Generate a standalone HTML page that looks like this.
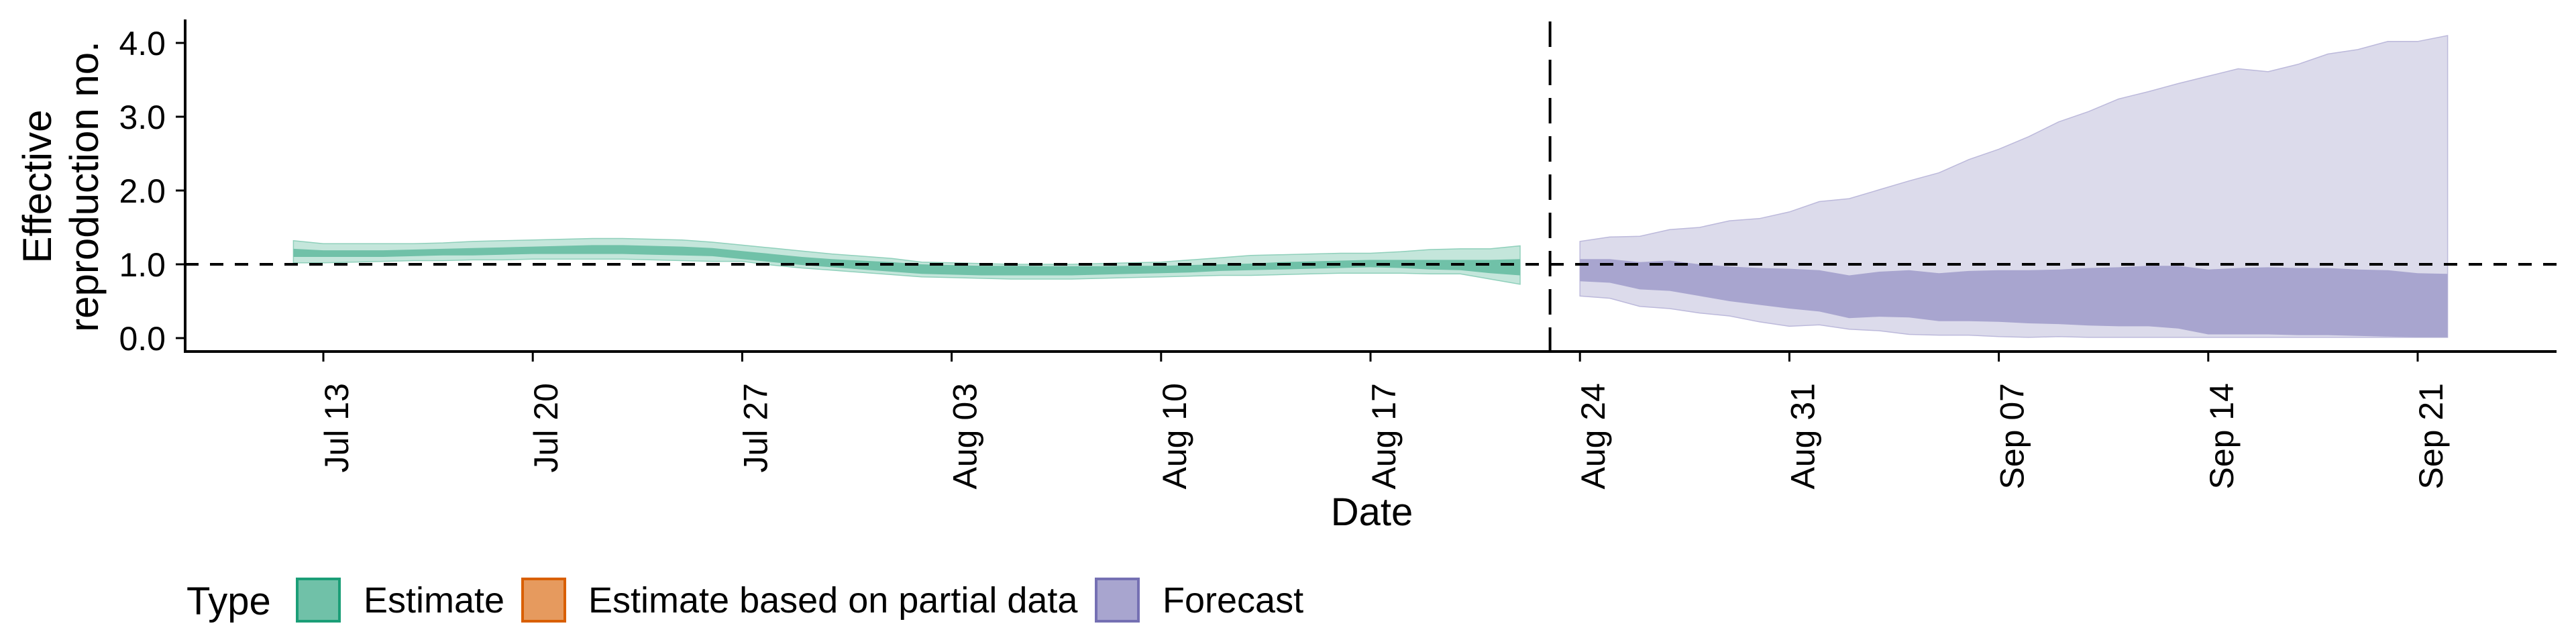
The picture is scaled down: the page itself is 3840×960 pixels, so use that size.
<!DOCTYPE html>
<html><head><meta charset="utf-8"><style>
html,body{margin:0;padding:0;background:#fff;}
svg{display:block;font-family:"Liberation Sans",sans-serif;}
</style></head><body>
<svg id="chart" width="3840" height="960" viewBox="0 0 3840 960" xmlns="http://www.w3.org/2000/svg">
<g id="bands"></g>
<g id="axes"></g>
<text x="2045" y="783" font-size="58" text-anchor="middle">Date</text>
<text transform="translate(0,278) rotate(-90)" font-size="60" text-anchor="middle"><tspan x="0" y="76">Effective</tspan><tspan x="0" y="146">reproduction no.</tspan></text>
<g>
<text x="278" y="916" font-size="58">Type</text>
<g><rect x="443" y="863" width="63" height="63" fill="#70c1a8" stroke="#1b9e77" stroke-width="4"/><text x="542" y="913" font-size="54">Estimate</text></g>
<g><rect x="779" y="863" width="63" height="63" fill="#e69a5e" stroke="#d95f02" stroke-width="4"/><text x="877" y="913" font-size="54">Estimate based on partial data</text></g>
<g><rect x="1634" y="863" width="63" height="63" fill="#a8a5cf" stroke="#7570b3" stroke-width="4"/><text x="1733" y="913" font-size="54">Forecast</text></g>
</g>
</svg>
<script>
// Estimate: day 0 = Jul 12
const estOuterHi=[1.32,1.28,1.28,1.28,1.28,1.29,1.31,1.32,1.33,1.34,1.35,1.35,1.34,1.33,1.30,1.26,1.22,1.18,1.14,1.11,1.08,1.03,1.02,1.01,1.00,1.00,1.00,1.01,1.02,1.03,1.06,1.09,1.12,1.13,1.14,1.15,1.15,1.17,1.20,1.21,1.21,1.25];
const estInnerHi=[1.21,1.19,1.19,1.19,1.20,1.21,1.22,1.23,1.24,1.25,1.26,1.26,1.25,1.24,1.22,1.18,1.14,1.10,1.07,1.05,1.03,1.00,0.99,0.98,0.98,0.975,0.975,0.975,0.98,0.98,0.99,1.00,1.01,1.03,1.04,1.05,1.06,1.06,1.06,1.06,1.06,1.07];
const estInnerLo=[1.10,1.10,1.10,1.10,1.11,1.12,1.12,1.13,1.14,1.14,1.14,1.14,1.13,1.12,1.11,1.07,1.03,0.99,0.96,0.93,0.90,0.87,0.86,0.85,0.85,0.85,0.85,0.86,0.87,0.88,0.89,0.91,0.92,0.93,0.94,0.95,0.96,0.95,0.93,0.92,0.88,0.85];
const estOuterLo=[1.02,1.02,1.03,1.04,1.05,1.05,1.06,1.06,1.07,1.07,1.07,1.07,1.06,1.05,1.04,1.04,0.99,0.95,0.92,0.89,0.86,0.83,0.82,0.81,0.80,0.80,0.80,0.81,0.82,0.83,0.84,0.85,0.85,0.86,0.87,0.88,0.88,0.88,0.87,0.87,0.80,0.73];
// Forecast: starts Aug 24 (day 43)
const fcStart=43;
const fcOuterHi=[1.31,1.37,1.38,1.47,1.50,1.59,1.62,1.71,1.85,1.89,2.01,2.13,2.24,2.42,2.56,2.73,2.93,3.07,3.24,3.34,3.45,3.55,3.65,3.61,3.71,3.85,3.91,4.02,4.02,4.10];
const fcInnerHi=[1.07,1.07,1.03,1.05,1.00,0.97,0.95,0.94,0.92,0.85,0.90,0.92,0.88,0.91,0.92,0.92,0.93,0.95,0.96,0.98,0.98,0.93,0.95,0.96,0.95,0.95,0.93,0.92,0.88,0.87];
const fcInnerLo=[0.77,0.75,0.66,0.64,0.57,0.50,0.45,0.40,0.36,0.27,0.29,0.28,0.23,0.23,0.22,0.20,0.19,0.17,0.16,0.16,0.13,0.05,0.05,0.05,0.04,0.04,0.03,0.02,0.01,0.01];
const fcOuterLo=[0.57,0.54,0.43,0.40,0.34,0.30,0.22,0.16,0.18,0.12,0.10,0.05,0.04,0.04,0.02,0.01,0.02,0.01,0.01,0.01,0.01,0.01,0.01,0.01,0.01,0.01,0.01,0.01,0.01,0.01];
const yTicks=[0,1,2,3,4];
const yTickLabels=["0.0","1.0","2.0","3.0","4.0"];
const xTickDays=[1,8,15,22,29,36,43,50,57,64,71];
const xTickLabels=["Jul 13","Jul 20","Jul 27","Aug 03","Aug 10","Aug 17","Aug 24","Aug 31","Sep 07","Sep 14","Sep 21"];
const refLine=1.0;
const dataCutDay=42;

const NS="http://www.w3.org/2000/svg";
const xs=d=>482+(d-1)*44.6;
const ys=v=>504-110*v;
function mk(tag,attrs,parent){const e=document.createElementNS(NS,tag);for(const k in attrs)e.setAttribute(k,attrs[k]);parent.appendChild(e);return e;}
function ribbon(hi,lo,start,fill,stroke,name){
  let p=[];
  hi.forEach((v,i)=>p.push(xs(start+i).toFixed(1)+","+ys(v).toFixed(1)));
  for(let i=lo.length-1;i>=0;i--)p.push(xs(start+i).toFixed(1)+","+ys(lo[i]).toFixed(1));
  const e=mk("polygon",{points:p.join(" "),fill:fill,stroke:stroke,"stroke-width":stroke==="none"?0:1.5},document.getElementById("bands"));
  
  
}
ribbon(estOuterHi,estOuterLo,0,"#c4e6db","#8fd0bb","estimate-outer-band");
ribbon(estInnerHi,estInnerLo,0,"#70c1a8","none","estimate-inner-band");
ribbon(fcOuterHi,fcOuterLo,fcStart,"#dcdbeb","#bcb9db","forecast-outer-band");
ribbon(fcInnerHi,fcInnerLo,fcStart,"#a8a5cf","none","forecast-inner-band");

const ax=document.getElementById("axes");
let e;
e=mk("line",{x1:276,y1:ys(refLine),x2:3811,y2:ys(refLine),stroke:"#000","stroke-width":4,"stroke-dasharray":"20 17"},ax);


e=mk("line",{x1:xs(dataCutDay),y1:32,x2:xs(dataCutDay),y2:524,stroke:"#000","stroke-width":4,"stroke-dasharray":"38 19"},ax);


e=mk("line",{x1:276,y1:29,x2:276,y2:526,stroke:"#000","stroke-width":4},ax);


e=mk("line",{x1:274,y1:524,x2:3811,y2:524,stroke:"#000","stroke-width":4},ax);


yTicks.forEach((v,i)=>{
  const t=mk("line",{x1:262,y1:ys(v),x2:276,y2:ys(v),stroke:"#000","stroke-width":3},ax);
  
  
  const l=mk("text",{x:247,y:ys(v)+18,"font-size":50,"text-anchor":"end"},ax);
  l.textContent=yTickLabels[i];
  
  
});
xTickDays.forEach((d,i)=>{
  const x=xs(d);
  const t=mk("line",{x1:x,y1:524,x2:x,y2:539,stroke:"#000","stroke-width":3},ax);
  
  
  const l=mk("text",{transform:`translate(${x+37},571) rotate(-90)`,"font-size":50,"text-anchor":"end"},ax);
  l.textContent=xTickLabels[i];
  
  
});
</script>
</body></html>
